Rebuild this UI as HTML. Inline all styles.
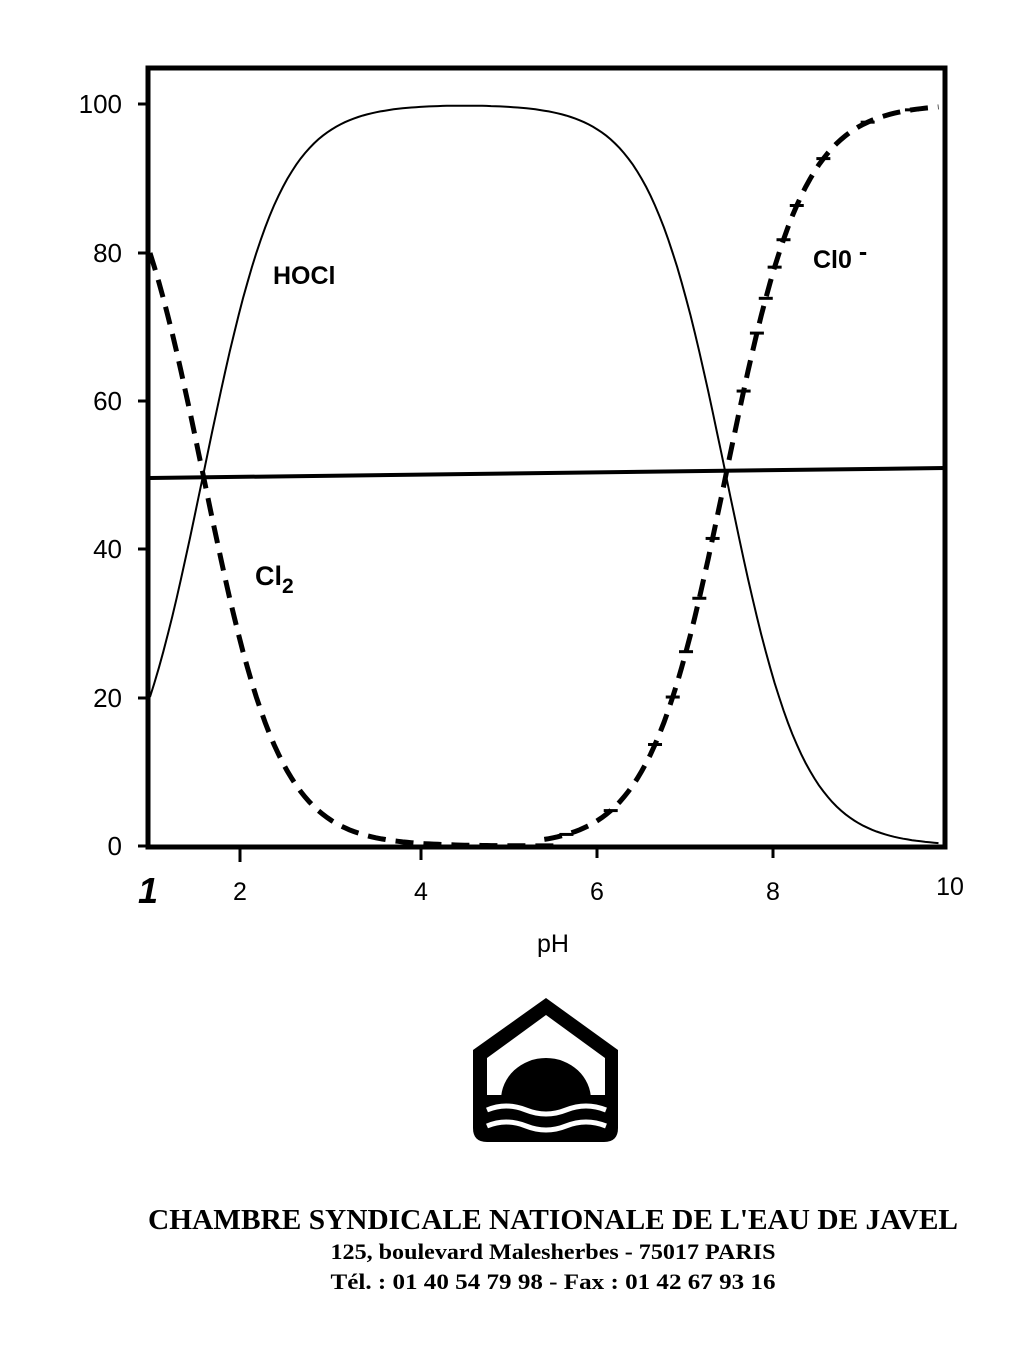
<!DOCTYPE html>
<html><head><meta charset="utf-8"><style>
body{margin:0;background:#fff;}
svg{display:block}
</style></head><body>
<svg id="s" width="1025" height="1345" xmlns="http://www.w3.org/2000/svg" font-family="Liberation Sans, sans-serif">
<rect width="1025" height="1345" fill="#fff"/>
<rect x="148" y="68" width="797" height="779" fill="none" stroke="#000" stroke-width="5"/>
<g stroke="#000" stroke-width="3">
<line x1="138" y1="104" x2="150" y2="104"/><line x1="138" y1="253" x2="150" y2="253"/>
<line x1="138" y1="401" x2="150" y2="401"/><line x1="138" y1="549" x2="150" y2="549"/>
<line x1="138" y1="698" x2="150" y2="698"/><line x1="138" y1="846" x2="150" y2="846"/>
<line x1="240" y1="846" x2="240" y2="862"/><line x1="421" y1="846" x2="421" y2="860"/>
<line x1="597" y1="846" x2="597" y2="858"/><line x1="773" y1="846" x2="773" y2="858"/>
</g>
<g font-size="26" text-anchor="end" fill="#000">
<text x="122" y="113">100</text><text x="122" y="262">80</text><text x="122" y="410">60</text>
<text x="122" y="558">40</text><text x="122" y="707">20</text><text x="122" y="855">0</text>
</g>
<g font-size="25" text-anchor="middle" fill="#000">
<text x="148" y="903" font-size="36" font-style="italic" font-weight="bold">1</text><text x="240" y="900">2</text><text x="421" y="900">4</text>
<text x="597" y="900">6</text><text x="773" y="900">8</text><text x="950" y="895">10</text>
<text x="553" y="952">pH</text>
</g>
<line x1="150" y1="478" x2="945" y2="468" stroke="#000" stroke-width="4"/>
<path id="hocl" fill="none" stroke="#000" stroke-width="2"/>
<path id="cl2" fill="none" stroke="#000" stroke-width="5" stroke-dasharray="18 10"/>
<path id="clo" fill="none" stroke="#000" stroke-width="5" stroke-dasharray="18 10"/>
<g id="marks" stroke="#000" stroke-width="3"></g>
<text x="273" y="284" font-size="25" font-weight="bold">HOCl</text>
<text x="255" y="585" font-size="27" font-weight="bold">Cl<tspan font-size="21" dy="8">2</tspan></text>
<text x="813" y="268" font-size="25" font-weight="bold">Cl0 <tspan dy="-8">-</tspan></text>
<path d="M546 998 L618 1050 L618 1128 Q618 1142 604 1142 L487 1142 Q473 1142 473 1128 L473 1050 Z" fill="#000"/>
<path d="M546 1015 L605 1058 L605 1095 L487 1095 L487 1058 Z" fill="#fff"/>
<path d="M501 1100 A45 42 0 0 1 591 1100 Z" fill="#000"/>
<path d="M487 1110 Q506 1102 526 1110 T566 1110 T606 1110" fill="none" stroke="#fff" stroke-width="5"/>
<path d="M487 1126 Q506 1118 526 1126 T566 1126 T606 1126" fill="none" stroke="#fff" stroke-width="5"/>
<g font-family="Liberation Serif, serif" text-anchor="middle" fill="#000">
<text x="553" y="1229" font-size="28" font-weight="bold" textLength="810" lengthAdjust="spacingAndGlyphs">CHAMBRE SYNDICALE NATIONALE DE L'EAU DE JAVEL</text>
<text x="553" y="1259" font-size="22" font-weight="bold" textLength="445" lengthAdjust="spacingAndGlyphs">125, boulevard Malesherbes - 75017  PARIS</text>
<text x="553" y="1289" font-size="22" font-weight="bold" textLength="445" lengthAdjust="spacingAndGlyphs">Tél. : 01 40 54 79 98  -  Fax : 01 42 67 93 16</text>
</g>
</svg>
<script>
function X(p){return 150+(p-1)*88.6}function Y(v){return 846-v*7.42}
var a=[],b=[],c=[];
for(var p=1;p<=9.95;p+=0.05){var cl=100/(1+Math.pow(10,(p-1.6))),co=100/(1+Math.pow(10,7.5-p)),h=100-cl-co;
a.push(X(p).toFixed(1)+','+Y(h).toFixed(1));
if(p<=5.6)b.push(X(p).toFixed(1)+','+Y(cl).toFixed(1));
if(p>=5.4)c.push(X(p).toFixed(1)+','+Y(co).toFixed(1));}
document.getElementById('hocl').setAttribute('d','M'+a.join(' L'));
document.getElementById('cl2').setAttribute('d','M'+b.join(' L'));
document.getElementById('clo').setAttribute('d','M'+c.join(' L'));
var g=document.getElementById('marks'),s='';
[5.7,6.2,6.7,6.9,7.05,7.2,7.35,7.7,7.85,7.95,8.05,8.15,8.3,8.6,9.1,9.6].forEach(function(p){var v=100/(1+Math.pow(10,7.5-p));var x=X(p),y=Y(v);s+='<line x1="'+(x-7)+'" y1="'+y+'" x2="'+(x+7)+'" y2="'+y+'"/>';});
g.innerHTML=s;
</script>
</body></html>
